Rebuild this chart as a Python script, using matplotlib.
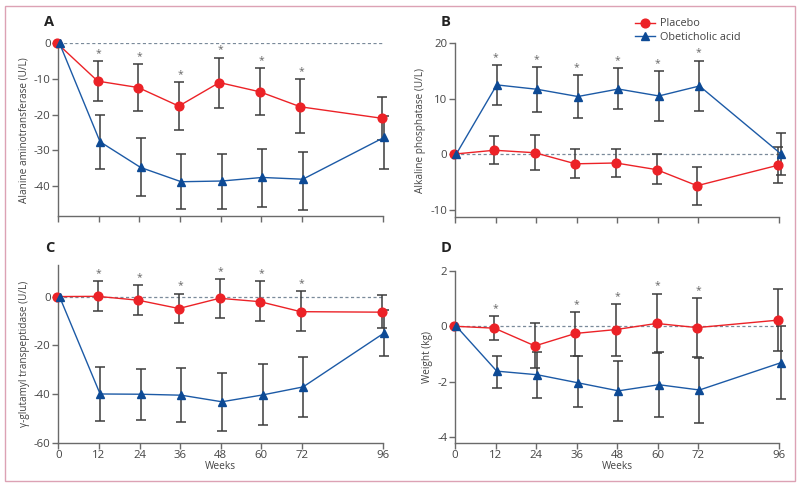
import matplotlib
matplotlib.use("Agg")
import matplotlib.pyplot as plt
from matplotlib.patches import Rectangle
from matplotlib.lines import Line2D
import numpy as np

plt.rcParams['font.family'] = ['Open Sans', 'DejaVu Sans']
plt.rcParams['axes.unicode_minus'] = False

weeks = [0, 12, 24, 36, 48, 60, 72, 96]
week_labels = ["0", "12", "24", "36", "48", "60", "72", "96"]

# Panel A: Alanine aminotransferase
a_pla = [0, -10.6, -12.4, -17.6, -11.0, -13.6, -17.8, -21.0]
a_pla_lo = [0, -16.1, -19.1, -24.4, -18.0, -20.2, -25.2, -27.0]
a_pla_hi = [0, -5.0, -5.8, -10.9, -4.0, -7.0, -10.1, -15.0]
a_oca = [0, -27.6, -34.8, -38.8, -38.6, -37.6, -38.1, -26.4]
a_oca_lo = [0, -35.2, -42.9, -46.5, -46.4, -45.8, -46.7, -35.3]
a_oca_hi = [0, -20.0, -26.6, -30.9, -31.1, -29.5, -30.4, -20.3]
a_stars = [12, 24, 36, 48, 60, 72]

# Panel B: Alkaline phosphatase
b_pla = [0, 0.7, 0.25, -1.75, -1.6, -2.8, -5.7, -2.0]
b_pla_lo = [0, -1.7, -2.9, -4.4, -4.2, -5.4, -9.2, -5.2]
b_pla_hi = [0, 3.2, 3.4, 0.9, 0.85, 0.1, -2.3, 1.3]
b_oca = [0, 12.5, 11.7, 10.4, 11.75, 10.5, 12.3, 0.1]
b_oca_lo = [0, 8.9, 7.65, 6.45, 8.1, 6.0, 7.8, -3.7]
b_oca_hi = [0, 16.0, 15.7, 14.3, 15.6, 15.0, 16.9, 3.9]
b_stars = [12, 24, 36, 48, 60, 72]

# Panel C: gamma-glutamyl transpeptidase
c_pla = [0, 0.1, -1.5, -4.9, -0.7, -2.1, -6.2, -6.4]
c_pla_lo = [0, -6.0, -7.7, -11.0, -8.9, -10.1, -14.1, -13.0]
c_pla_hi = [0, 6.3, 4.8, 1.2, 7.3, 6.2, 2.3, 0.5]
c_oca = [0, -40.0, -40.1, -40.5, -43.2, -40.4, -37.1, -14.9]
c_oca_lo = [0, -51.2, -50.8, -51.6, -55.3, -52.9, -49.6, -24.4]
c_oca_hi = [0, -28.9, -29.6, -29.2, -31.2, -27.8, -24.8, -5.5]
c_stars = [12, 24, 36, 48, 60, 72]

# Panel D: Weight
d_pla = [0, -0.07, -0.71, -0.26, -0.12, 0.1, -0.05, 0.22]
d_pla_lo = [0, -0.5, -1.5, -1.06, -1.06, -0.98, -1.1, -0.9]
d_pla_hi = [0, 0.36, 0.13, 0.52, 0.8, 1.18, 1.0, 1.34]
d_oca = [0, -1.62, -1.75, -2.04, -2.33, -2.11, -2.3, -1.32]
d_oca_lo = [0, -2.22, -2.6, -2.9, -3.43, -3.29, -3.49, -2.64]
d_oca_hi = [0, -1.07, -0.92, -1.06, -1.25, -0.92, -1.13, 0.0]
d_stars = [12, 36, 48, 60, 72]

RED = '#ec2227'
BLUE = '#1c5aa6'
BLUE_M = '#0d4a95'
ERR = '#3c3c3c'
AX = '#6a6a6a'
TXT = '#444444'

fig = plt.figure(figsize=(8, 4.87), dpi=100)

panels = [
    dict(rect=[0.0729, 0.5565, 0.4055, 0.3546], ylim=(-48.4, 0), yticks=[0, -10, -20, -30, -40],
         ylabel='Alanine aminotransferase (U/L)', letter='A', xlab=False,
         pla=(a_pla, a_pla_lo, a_pla_hi), oca=(a_oca, a_oca_lo, a_oca_hi), stars=a_stars),
    dict(rect=[0.5688, 0.5550, 0.4054, 0.3560], ylim=(-11.3, 20), yticks=[-10, 0, 10, 20],
         ylabel='Alkaline phosphatase (U/L)', letter='B', xlab=False,
         pla=(b_pla, b_pla_lo, b_pla_hi), oca=(b_oca, b_oca_lo, b_oca_hi), stars=b_stars),
    dict(rect=[0.0729, 0.0910, 0.4060, 0.3650], ylim=(-60, 13), yticks=[0, -20, -40, -60],
         ylabel='γ-glutamyl transpeptidase (U/L)', letter='C', xlab=True,
         pla=(c_pla, c_pla_lo, c_pla_hi), oca=(c_oca, c_oca_lo, c_oca_hi), stars=c_stars),
    dict(rect=[0.5688, 0.0910, 0.4054, 0.3530], ylim=(-4.2, 2), yticks=[-4, -2, 0, 2],
         ylabel='Weight (kg)', letter='D', xlab=True,
         pla=(d_pla, d_pla_lo, d_pla_hi), oca=(d_oca, d_oca_lo, d_oca_hi), stars=d_stars),
]

letter_pos = {'A': (44, 22), 'B': (441, 22), 'C': (45, 248), 'D': (441, 248)}

x = np.array(weeks, dtype=float)
for p in panels:
    ax = fig.add_axes(p['rect'])
    ax.set_xlim(0, 96)
    ax.set_ylim(*p['ylim'])
    for s in ['top', 'right']:
        ax.spines[s].set_visible(False)
    for s in ['left', 'bottom']:
        ax.spines[s].set_color(AX)
        ax.spines[s].set_linewidth(1.0)
    ax.axhline(0, color='#7a8a9a', lw=0.9, ls=(0, (2.5, 2)), zorder=1)

    for (m, lo, hi), col, mcol, mk, ms, off in [
        (p['pla'], RED, RED, 'o', 6.3, -0.35),
        (p['oca'], BLUE, BLUE_M, '^', 5.5, 0.35),
    ]:
        m = np.array(m); lo = np.array(lo); hi = np.array(hi)
        xe = x + off
        ax.errorbar(xe[1:], m[1:], yerr=[m[1:] - lo[1:], hi[1:] - m[1:]], fmt='none',
                    ecolor=ERR, elinewidth=1.1, capsize=3.3, capthick=1.1, zorder=2, clip_on=False)
        ax.plot(xe, m, color=col, lw=1.0, zorder=3, clip_on=False)
        ax.plot(xe, m, ls='none', marker=mk, ms=ms, color=mcol, mec=mcol, zorder=4, clip_on=False)

    pla = p['pla']; oca = p['oca']
    for w in p['stars']:
        i = weeks.index(w)
        top = max(pla[2][i], oca[2][i])
        ax.annotate('*', xy=(w, top), xytext=(0, 1.5), textcoords='offset points',
                    ha='center', va='bottom', fontsize=7.5, color='#666666')

    ax.set_xticks(weeks)
    if p['xlab']:
        ax.set_xticklabels(week_labels)
        ax.set_xlabel('Weeks', fontsize=7.3, color=TXT, labelpad=0)
    else:
        ax.set_xticklabels([])
    ax.set_yticks(p['yticks'])
    ax.set_yticklabels([str(t) for t in p['yticks']])
    ax.tick_params(axis='both', direction='out', length=4, width=1.0, color=AX,
                   labelsize=8.2, labelcolor=TXT, pad=1.5)
    ax.set_ylabel(p['ylabel'], fontsize=7.2, color=TXT, labelpad=3)

    lx, ly = letter_pos[p['letter']]
    fig.text(lx / 800, 1 - ly / 487, p['letter'], fontsize=10.5, fontweight='bold',
             color='#222222', ha='left', va='center')

# legend
handles = [Line2D([0], [0], color=RED, lw=1.0, marker='o', ms=6.3, mec=RED),
           Line2D([0], [0], color=BLUE, lw=1.0, marker='^', ms=5.5, mfc=BLUE_M, mec=BLUE_M)]
fig.legend(handles, ['Placebo', 'Obeticholic acid'], loc='upper left',
           bbox_to_anchor=(630 / 800, 1 - 13 / 487), frameon=False, fontsize=7.8,
           handlelength=1.8, handletextpad=0.5, labelspacing=0.2, borderpad=0,
           labelcolor=TXT)

fig.patches.append(Rectangle((5 / 800, 6 / 487), 790 / 800, 475 / 487,
                             transform=fig.transFigure, fill=False,
                             edgecolor='#dca2b4', lw=1.0))

fig.savefig('out.png', dpi=100)
